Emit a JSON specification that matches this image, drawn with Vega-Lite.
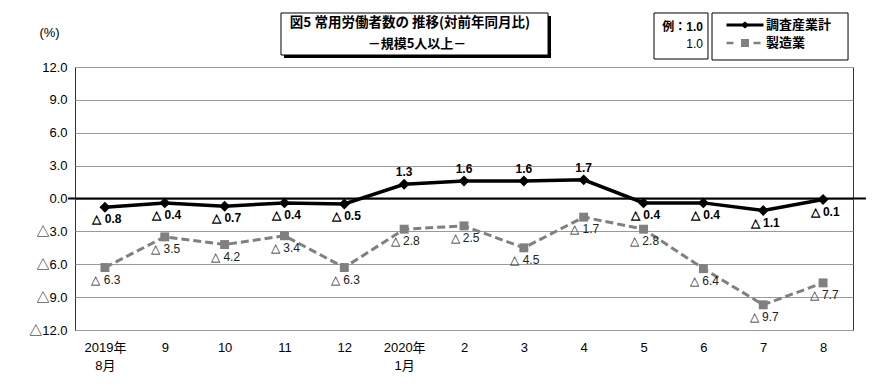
{
  "$schema": "https://vega.github.io/schema/vega-lite/v6.json",
  "width": 778,
  "height": 263,
  "autosize": {"type": "none"},
  "padding": {"left": 75, "top": 67, "right": 37, "bottom": 59},
  "background": "white",
  "config": {
    "view": {"stroke": "#333333", "strokeWidth": 1},
    "font": "Liberation Sans",
    "axisX": {"title": null, "labelExpr": "datum.value == 0 ? ['2019年', '8月'] : datum.value == 5 ? ['2020年', '1月'] : '' + ((datum.value + 7) % 12 + 1)",
      "grid": false, "domain": false, "ticks": false, "labelPadding": 11,
      "labelFontSize": 13, "labelFont": "Liberation Sans Narrow, Liberation Sans, Noto Sans CJK JP", "labelLineHeight": 18,
      "labelOverlap": false, "labelFlush": false, "labelColor": "#000000", "labelBaseline": "top"},
    "axisY": {"titleAngle": 0, "titleX": -26, "titleY": -35, "titleAlign": "center",
      "titleBaseline": "middle", "titleFont": "Liberation Sans", "titleFontSize": 13, "titleFontWeight": "normal",
      "titleColor": "#000000",
      "labelExpr": "datum.value < 0 ? '△' + format(-datum.value, '.1f') : format(datum.value, '.1f')",
      "grid": true, "gridColor": "#9a9a9a", "gridWidth": 1, "domain": false, "ticks": false,
      "labelPadding": 8, "labelFontSize": 13, "labelColor": "#000000", "labelFont": "Liberation Sans, Noto Sans CJK JP", "labelOverlap": false}
  },
  "data": {"values": [
    {"t": 0, "series": "調査産業計", "value": -0.8, "label": "△ 0.8"},
    {"t": 1, "series": "調査産業計", "value": -0.4, "label": "△ 0.4"},
    {"t": 2, "series": "調査産業計", "value": -0.7, "label": "△ 0.7"},
    {"t": 3, "series": "調査産業計", "value": -0.4, "label": "△ 0.4"},
    {"t": 4, "series": "調査産業計", "value": -0.5, "label": "△ 0.5"},
    {"t": 5, "series": "調査産業計", "value": 1.3, "label": "1.3"},
    {"t": 6, "series": "調査産業計", "value": 1.6, "label": "1.6"},
    {"t": 7, "series": "調査産業計", "value": 1.6, "label": "1.6"},
    {"t": 8, "series": "調査産業計", "value": 1.7, "label": "1.7"},
    {"t": 9, "series": "調査産業計", "value": -0.4, "label": "△ 0.4"},
    {"t": 10, "series": "調査産業計", "value": -0.4, "label": "△ 0.4"},
    {"t": 11, "series": "調査産業計", "value": -1.1, "label": "△ 1.1"},
    {"t": 12, "series": "調査産業計", "value": -0.1, "label": "△ 0.1"},
    {"t": 0, "series": "製造業", "value": -6.3, "label": "△ 6.3"},
    {"t": 1, "series": "製造業", "value": -3.5, "label": "△ 3.5"},
    {"t": 2, "series": "製造業", "value": -4.2, "label": "△ 4.2"},
    {"t": 3, "series": "製造業", "value": -3.4, "label": "△ 3.4"},
    {"t": 4, "series": "製造業", "value": -6.3, "label": "△ 6.3"},
    {"t": 5, "series": "製造業", "value": -2.8, "label": "△ 2.8"},
    {"t": 6, "series": "製造業", "value": -2.5, "label": "△ 2.5"},
    {"t": 7, "series": "製造業", "value": -4.5, "label": "△ 4.5"},
    {"t": 8, "series": "製造業", "value": -1.7, "label": "△ 1.7"},
    {"t": 9, "series": "製造業", "value": -2.8, "label": "△ 2.8"},
    {"t": 10, "series": "製造業", "value": -6.4, "label": "△ 6.4"},
    {"t": 11, "series": "製造業", "value": -9.7, "label": "△ 9.7"},
    {"t": 12, "series": "製造業", "value": -7.7, "label": "△ 7.7"}
  ]},
  "layer": [
    {
      "data": {"values": [{}]},
      "mark": {"type": "rect", "fill": "#000000"},
      "encoding": {
        "x": {"datum": 2.992, "type": "quantitative", "title": null, "scale": {"domain": [-0.5, 12.5], "nice": false, "zero": false}, "axis": {"values": [0,1,2,3,4,5,6,7,8,9,10,11,12]}},
        "x2": {"datum": 7.454},
        "y": {"datum": 16.654, "type": "quantitative", "title": "(%)", "scale": {"domain": [-12, 12], "nice": false, "zero": false}, "axis": {"values": [-12,-9,-6,-3,0,3,6,9,12]}},
        "y2": {"datum": 12.822}
      }
    },
    {
      "data": {"values": [{}]},
      "mark": {"type": "rect", "fill": "#ffffff", "stroke": "#000000", "strokeWidth": 1},
      "encoding": {
        "x": {"datum": 2.942, "type": "quantitative", "title": null, "axis": {"values": [0,1,2,3,4,5,6,7,8,9,10,11,12]}},
        "x2": {"datum": 7.404},
        "y": {"datum": 16.928, "type": "quantitative", "title": "(%)", "axis": {"values": [-12,-9,-6,-3,0,3,6,9,12]}},
        "y2": {"datum": 13.095}
      }
    },
    {
      "data": {"values": [{}]},
      "mark": {"type": "text", "text": "図5  常用労働者数の 推移(対前年同月比)", "font": "Noto Sans CJK JP",
        "fontWeight": "bold", "fontSize": 13.5, "align": "center", "baseline": "middle", "color": "#000000"},
      "encoding": {
        "x": {"datum": 5.098, "type": "quantitative", "title": null, "axis": {"values": [0,1,2,3,4,5,6,7,8,9,10,11,12]}},
        "y": {"datum": 15.97, "type": "quantitative", "title": "(%)", "axis": {"values": [-12,-9,-6,-3,0,3,6,9,12]}}
      }
    },
    {
      "data": {"values": [{}]},
      "mark": {"type": "text", "text": "－規模5人以上－", "font": "Noto Sans CJK JP",
        "fontWeight": "bold", "fontSize": 13, "align": "center", "baseline": "middle", "color": "#000000"},
      "encoding": {
        "x": {"datum": 5.215, "type": "quantitative", "title": null, "axis": {"values": [0,1,2,3,4,5,6,7,8,9,10,11,12]}},
        "y": {"datum": 14.08, "type": "quantitative", "title": "(%)", "axis": {"values": [-12,-9,-6,-3,0,3,6,9,12]}}
      }
    },
    {
      "data": {"values": [{}]},
      "mark": {"type": "rect", "fill": "#ffffff", "stroke": "#000000", "strokeWidth": 1},
      "encoding": {
        "x": {"datum": 9.175, "type": "quantitative", "title": null, "axis": {"values": [0,1,2,3,4,5,6,7,8,9,10,11,12]}},
        "x2": {"datum": 10.077},
        "y": {"datum": 16.928, "type": "quantitative", "title": "(%)", "axis": {"values": [-12,-9,-6,-3,0,3,6,9,12]}},
        "y2": {"datum": 12.73}
      }
    },
    {
      "data": {"values": [{}]},
      "mark": {"type": "rect", "fill": "#ffffff", "stroke": "#000000", "strokeWidth": 1},
      "encoding": {
        "x": {"datum": 10.144, "type": "quantitative", "title": null, "axis": {"values": [0,1,2,3,4,5,6,7,8,9,10,11,12]}},
        "x2": {"datum": 12.417},
        "y": {"datum": 16.928, "type": "quantitative", "title": "(%)", "axis": {"values": [-12,-9,-6,-3,0,3,6,9,12]}},
        "y2": {"datum": 12.639}
      }
    },
    {
      "data": {"values": [{}]},
      "mark": {"type": "text", "text": "例：1.0", "font": "Liberation Sans, Noto Sans CJK JP",
        "fontWeight": "bold", "fontSize": 12, "align": "right", "baseline": "middle", "color": "#000000"},
      "encoding": {
        "x": {"datum": 9.994, "type": "quantitative", "title": null, "axis": {"values": [0,1,2,3,4,5,6,7,8,9,10,11,12]}},
        "y": {"datum": 15.65, "type": "quantitative", "title": "(%)", "axis": {"values": [-12,-9,-6,-3,0,3,6,9,12]}}
      }
    },
    {
      "data": {"values": [{}]},
      "mark": {"type": "text", "text": "1.0", "font": "Liberation Sans",
        "fontWeight": "normal", "fontSize": 12, "align": "right", "baseline": "middle", "color": "#000000"},
      "encoding": {
        "x": {"datum": 9.994, "type": "quantitative", "title": null, "axis": {"values": [0,1,2,3,4,5,6,7,8,9,10,11,12]}},
        "y": {"datum": 14.099, "type": "quantitative", "title": "(%)", "axis": {"values": [-12,-9,-6,-3,0,3,6,9,12]}}
      }
    },
    {
      "data": {"values": [{}]},
      "mark": {"type": "rule", "color": "#000000", "strokeWidth": 2},
      "encoding": {
        "x": {"datum": -0.617, "type": "quantitative", "title": null, "axis": {"values": [0,1,2,3,4,5,6,7,8,9,10,11,12]}},
        "x2": {"datum": 12.717},
        "y": {"datum": 0, "type": "quantitative", "title": "(%)", "axis": {"values": [-12,-9,-6,-3,0,3,6,9,12]}}
      }
    },
    {
      "mark": {"type": "point", "opacity": 0, "filled": true, "size": 100},
      "encoding": {
        "x": {"field": "t", "type": "quantitative", "title": null, "axis": {"values": [0,1,2,3,4,5,6,7,8,9,10,11,12]}},
        "y": {"field": "value", "type": "quantitative", "title": "(%)", "axis": {"values": [-12,-9,-6,-3,0,3,6,9,12]}},
        "fill": {"field": "series", "type": "nominal",
          "scale": {"domain": ["調査産業計", "製造業"], "range": ["#000000", "#808080"]},
          "legend": {"title": null, "orient": "none", "legendX": 637, "legendY": -55,
            "padding": 3, "symbolSize": 400, "symbolOpacity": 1,
            "symbolStrokeWidth": 0, "symbolOffset": 20, "labelOffset": 11, "rowPadding": 1,
            "labelFont": "Noto Sans CJK JP", "labelFontWeight": "bold", "labelFontSize": 13, "labelColor": "#000000"}},
        "shape": {"field": "series", "type": "nominal",
          "scale": {"domain": ["調査産業計", "製造業"],
            "range": ["M-1.85,-0.15H1.85V0.15H-1.85Z M-0.45,0L0,-0.35L0.45,0L0,0.35Z",
                      "M-1.85,-0.13H-1.15V0.13H-1.85Z M-0.4,-0.4H0.4V0.4H-0.4Z M0.85,-0.13H1.55V0.13H0.85Z"]},
          "legend": {"title": null, "orient": "none", "legendX": 637, "legendY": -55,
            "padding": 3, "symbolSize": 400, "symbolOpacity": 1,
            "symbolStrokeWidth": 0, "symbolOffset": 20, "labelOffset": 11, "rowPadding": 1,
            "labelFont": "Noto Sans CJK JP", "labelFontWeight": "bold", "labelFontSize": 13, "labelColor": "#000000"}}
      }
    },
    {
      "transform": [{"filter": "datum.series === '製造業'"}],
      "mark": {"type": "line", "color": "#808080", "strokeWidth": 3, "strokeDash": [8, 4]},
      "encoding": {
        "x": {"field": "t", "type": "quantitative", "title": null, "axis": {"values": [0,1,2,3,4,5,6,7,8,9,10,11,12]}},
        "y": {"field": "value", "type": "quantitative", "title": "(%)", "axis": {"values": [-12,-9,-6,-3,0,3,6,9,12]}}
      }
    },
    {
      "transform": [{"filter": "datum.series === '製造業'"}],
      "mark": {"type": "point", "shape": "square", "filled": true, "color": "#808080", "size": 80, "opacity": 1},
      "encoding": {
        "x": {"field": "t", "type": "quantitative", "title": null, "axis": {"values": [0,1,2,3,4,5,6,7,8,9,10,11,12]}},
        "y": {"field": "value", "type": "quantitative", "title": "(%)", "axis": {"values": [-12,-9,-6,-3,0,3,6,9,12]}}
      }
    },
    {
      "transform": [{"filter": "datum.series === '調査産業計'"}],
      "mark": {"type": "line", "color": "#000000", "strokeWidth": 3.5},
      "encoding": {
        "x": {"field": "t", "type": "quantitative", "title": null, "axis": {"values": [0,1,2,3,4,5,6,7,8,9,10,11,12]}},
        "y": {"field": "value", "type": "quantitative", "title": "(%)", "axis": {"values": [-12,-9,-6,-3,0,3,6,9,12]}}
      }
    },
    {
      "transform": [{"filter": "datum.series === '調査産業計'"}],
      "mark": {"type": "point", "shape": "diamond", "filled": true, "color": "#000000", "size": 120, "opacity": 1},
      "encoding": {
        "x": {"field": "t", "type": "quantitative", "title": null, "axis": {"values": [0,1,2,3,4,5,6,7,8,9,10,11,12]}},
        "y": {"field": "value", "type": "quantitative", "title": "(%)", "axis": {"values": [-12,-9,-6,-3,0,3,6,9,12]}}
      }
    },
    {
      "transform": [{"filter": "datum.series === '調査産業計' && datum.value < 0"}],
      "mark": {"type": "text", "font": "Liberation Sans Narrow, Liberation Sans", "fontWeight": "bold", "fontSize": 12,
        "align": "center", "baseline": "middle", "dx": 2, "dy": 12, "color": "#000000"},
      "encoding": {
        "x": {"field": "t", "type": "quantitative", "title": null, "axis": {"values": [0,1,2,3,4,5,6,7,8,9,10,11,12]}},
        "y": {"field": "value", "type": "quantitative", "title": "(%)", "axis": {"values": [-12,-9,-6,-3,0,3,6,9,12]}},
        "text": {"field": "label", "type": "nominal"}
      }
    },
    {
      "transform": [{"filter": "datum.series === '調査産業計' && datum.value >= 0"}],
      "mark": {"type": "text", "font": "Liberation Sans Narrow, Liberation Sans", "fontWeight": "bold", "fontSize": 12,
        "align": "center", "baseline": "middle", "dx": 0, "dy": -12, "color": "#000000"},
      "encoding": {
        "x": {"field": "t", "type": "quantitative", "title": null, "axis": {"values": [0,1,2,3,4,5,6,7,8,9,10,11,12]}},
        "y": {"field": "value", "type": "quantitative", "title": "(%)", "axis": {"values": [-12,-9,-6,-3,0,3,6,9,12]}},
        "text": {"field": "label", "type": "nominal"}
      }
    },
    {
      "transform": [{"filter": "datum.series === '製造業'"}],
      "mark": {"type": "text", "font": "Liberation Sans Narrow, Liberation Sans", "fontWeight": "normal", "fontSize": 12,
        "align": "center", "baseline": "middle", "dx": 1, "dy": 12, "color": "#222222"},
      "encoding": {
        "x": {"field": "t", "type": "quantitative", "title": null, "axis": {"values": [0,1,2,3,4,5,6,7,8,9,10,11,12]}},
        "y": {"field": "value", "type": "quantitative", "title": "(%)", "axis": {"values": [-12,-9,-6,-3,0,3,6,9,12]}},
        "text": {"field": "label", "type": "nominal"}
      }
    }
  ]
}
